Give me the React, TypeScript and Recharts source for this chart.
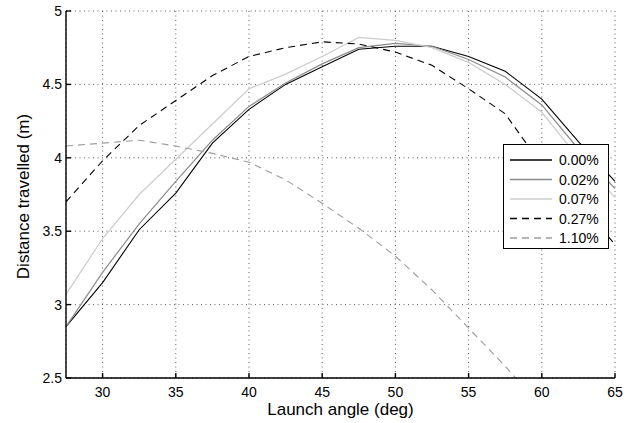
import React from 'react';
import { LineChart, Line, XAxis, YAxis, CartesianGrid } from 'recharts';

const angles = [27.5, 30, 32.5, 35, 37.5, 40, 42.5, 45, 47.5, 50, 52.5, 55, 57.5, 60, 62.5, 65];
const s000 = [2.85, 3.15, 3.51, 3.76, 4.10, 4.33, 4.50, 4.62, 4.74, 4.76, 4.76, 4.69, 4.59, 4.40, 4.11, 3.84];
const s002 = [2.85, 3.22, 3.55, 3.84, 4.12, 4.35, 4.51, 4.64, 4.75, 4.78, 4.76, 4.67, 4.55, 4.36, 4.06, 3.79];
const s007 = [3.07, 3.45, 3.75, 3.99, 4.23, 4.47, 4.57, 4.69, 4.82, 4.80, 4.75, 4.65, 4.50, 4.31, 4.00, 3.73];
const s027 = [3.70, 3.98, 4.22, 4.39, 4.56, 4.69, 4.75, 4.79, 4.775, 4.72, 4.63, 4.47, 4.30, 3.95, 3.69, 3.41];
const s110 = [4.08, 4.10, 4.12, 4.08, 4.03, 3.97, 3.85, 3.69, 3.52, 3.33, 3.10, 2.84, 2.58, 2.30, 2.00, 1.70];

const xTicks = [30, 35, 40, 45, 50, 55, 60, 65];
const yTicks = [2.5, 3, 3.5, 4, 4.5, 5];

const seriesNames = ['0.00%', '0.02%', '0.07%', '0.27%', '1.10%'];
const seriesKeys = ['s000', 's002', 's007', 's027', 's110'];
const seriesValues = [s000, s002, s007, s027, s110];
const seriesStyle = [
  { stroke: '#000000', dash: undefined, width: 1.1 },
  { stroke: '#8a8a8a', dash: undefined, width: 1.2 },
  { stroke: '#cccccc', dash: undefined, width: 1.2 },
  { stroke: '#000000', dash: '7 5', width: 1.1 },
  { stroke: '#9c9c9c', dash: '7 5', width: 1.1 },
];

const data = angles.map((a, i) => {
  const row: any = { angle: a };
  seriesKeys.forEach((k, j) => {
    row[k] = seriesValues[j][i];
  });
  return row;
});

const FONT = '"Liberation Sans", Arial, Helvetica, sans-serif';

const Legend2 = () => (
  <div
    style={{
      position: 'absolute',
      left: 503,
      top: 144,
      width: 106,
      height: 105,
      background: '#fff',
      border: '1.5px solid #000',
      boxSizing: 'border-box',
      fontFamily: FONT,
    }}
  >
    <svg width={104} height={102} style={{ display: 'block' }}>
      {seriesNames.map((n, i) => {
        const y = 15 + i * 19.5;
        return (
          <g key={n}>
            <line x1={6} x2={48} y1={y} y2={y} stroke={seriesStyle[i].stroke} strokeWidth={seriesStyle[i].width + 0.3} strokeDasharray={seriesStyle[i].dash} />
            <text x={55} y={y + 5} fontSize={14} fill="#000" fontFamily={FONT}>{n}</text>
          </g>
        );
      })}
    </svg>
  </div>
);

export default function App() {
  return (
    <div style={{ position: 'absolute', left: 0, top: 0, width: 631, height: 423, background: '#fff' }}>
      <LineChart width={631} height={423} data={data} margin={{ top: 11, right: 16, bottom: 0, left: 0 }}>
        <CartesianGrid stroke="#333" strokeDasharray="1 3.5" strokeWidth={0.8} />
        <XAxis
          dataKey="angle"
          type="number"
          domain={[27.5, 65]}
          ticks={xTicks}
          height={45}
          tickSize={-5}
          tickMargin={14}
          stroke="#000"
          strokeWidth={1.4}
          tick={{ fontSize: 14, fill: '#000', fontFamily: FONT }}
          label={{
            content: (p: any) => {
              const vb = p.viewBox;
              return (
                <text x={vb.x + vb.width / 2} y={415} textAnchor="middle" fontSize={17} fill="#000" fontFamily={FONT}>
                  Launch angle (deg)
                </text>
              );
            },
          }}
        />
        <XAxis xAxisId="top" orientation="top" type="number" domain={[27.5, 65]} ticks={xTicks} height={0} tick={false} tickSize={-5} stroke="#000" strokeWidth={1.4} />
        <YAxis
          type="number"
          domain={[2.5, 5]}
          ticks={yTicks}
          allowDataOverflow
          width={66}
          tickSize={-5}
          tickMargin={9}
          stroke="#000"
          strokeWidth={1.4}
          tick={{ fontSize: 14, fill: '#000', fontFamily: FONT }}
          label={{
            content: (p: any) => {
              const vb = p.viewBox;
              const cx = 28.5;
              const cy = vb.y + vb.height / 2 + 2;
              return (
                <text x={cx} y={cy} transform={`rotate(-90 ${cx} ${cy})`} textAnchor="middle" fontSize={17} fill="#000" fontFamily={FONT}>
                  Distance travelled (m)
                </text>
              );
            },
          }}
        />
        <YAxis yAxisId="right" orientation="right" type="number" domain={[2.5, 5]} ticks={yTicks} width={0} tick={false} tickSize={-5} stroke="#000" strokeWidth={1.4} />
        {seriesKeys.map((k, i) => (
          <Line
            key={k}
            dataKey={k}
            name={seriesNames[i]}
            type="linear"
            stroke={seriesStyle[i].stroke}
            strokeWidth={seriesStyle[i].width}
            strokeDasharray={seriesStyle[i].dash}
            dot={false}
            activeDot={false}
            isAnimationActive={false}
          />
        ))}
      </LineChart>
      <Legend2 />
    </div>
  );
}
